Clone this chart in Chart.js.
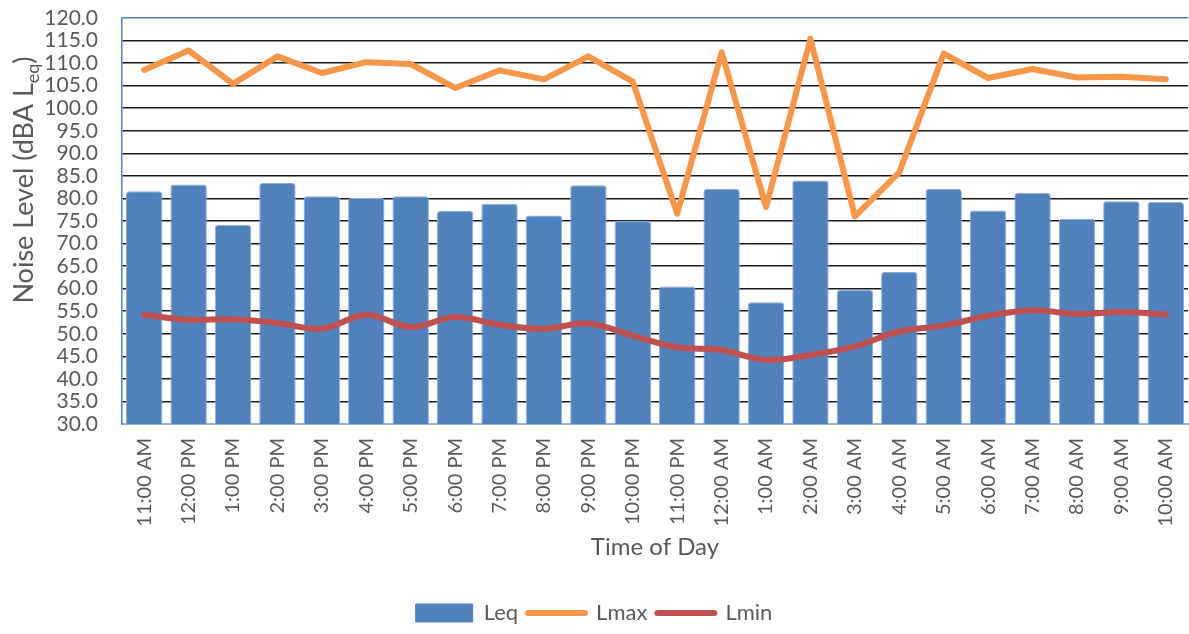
<!DOCTYPE html>
<html>
<head>
<meta charset="utf-8">
<script src="https://cdn.jsdelivr.net/npm/chart.js@4.4.1/dist/chart.umd.min.js"></script>
<style>
  html, body { margin: 0; padding: 0; background: #fff; }
  #wrap { width: 1189px; height: 634px; }
</style>
</head>
<body>
<div id="wrap"><canvas id="chart" width="1189" height="634"></canvas></div>
<script>
// Data
const times = ['11:00 AM', '12:00 PM', '1:00 PM', '2:00 PM', '3:00 PM', '4:00 PM', '5:00 PM', '6:00 PM',
  '7:00 PM', '8:00 PM', '9:00 PM', '10:00 PM', '11:00 PM', '12:00 AM', '1:00 AM', '2:00 AM',
  '3:00 AM', '4:00 AM', '5:00 AM', '6:00 AM', '7:00 AM', '8:00 AM', '9:00 AM', '10:00 AM'];
const leq = [81.6, 83.1, 74.1, 83.4, 80.5, 80.1, 80.5, 77.2, 78.8, 76.2, 82.9, 75.0,
  60.5, 82.1, 57.0, 84.0, 59.7, 63.7, 82.1, 77.3, 81.2, 75.5, 79.4, 79.2];
const lmax = [108.5, 112.8, 105.4, 111.5, 107.8, 110.2, 109.8, 104.5, 108.4, 106.4, 111.5, 105.9,
  76.6, 112.4, 78.1, 115.4, 76.0, 85.8, 112.1, 106.7, 108.7, 106.8, 107.0, 106.4];
const lmin = [54.2, 53.1, 53.2, 52.4, 51.1, 54.2, 51.5, 53.7, 52.0, 51.1, 52.3, 49.6,
  47.0, 46.4, 44.2, 45.3, 47.2, 50.5, 51.8, 54.0, 55.2, 54.4, 54.8, 54.3];

const FONT = 'Lato, "Noto Sans", sans-serif';
const TEXT = '#595959';

// y-axis title with subscript "eq"
const yTitle = {
  id: 'yTitle',
  afterDraw(chart) {
    const ctx = chart.ctx;
    const main = 'Noise Level (dBA L';
    const sub = 'eq';
    const end = ')';
    ctx.save();
    ctx.fillStyle = TEXT;
    ctx.textBaseline = 'alphabetic';
    ctx.font = '27px ' + FONT;
    const w1 = ctx.measureText(main).width;
    const w3 = ctx.measureText(end).width;
    ctx.font = '18px ' + FONT;
    const w2 = ctx.measureText(sub).width;
    const total = w1 + w2 + w3;
    ctx.translate(33, 180);
    ctx.rotate(-Math.PI / 2);
    let x = -total / 2;
    ctx.font = '27px ' + FONT;
    ctx.fillText(main, x, 0);
    x += w1;
    ctx.font = '18px ' + FONT;
    ctx.fillText(sub, x, 6);
    x += w2;
    ctx.font = '27px ' + FONT;
    ctx.fillText(end, x, 0);
    ctx.restore();
  }
};

new Chart(document.getElementById('chart'), {
  data: {
    labels: times,
    datasets: [
      {
        type: 'line',
        label: 'Lmin',
        data: lmin,
        borderColor: '#C0504D',
        backgroundColor: '#C0504D',
        borderWidth: 6,
        pointRadius: 0,
        tension: 0.35,
        borderCapStyle: 'round',
        borderJoinStyle: 'round',
        order: 1
      },
      {
        type: 'line',
        label: 'Lmax',
        data: lmax,
        borderColor: '#F79646',
        backgroundColor: '#F79646',
        borderWidth: 6,
        pointRadius: 0,
        tension: 0,
        borderCapStyle: 'round',
        borderJoinStyle: 'round',
        order: 2
      },
      {
        type: 'bar',
        label: 'Leq',
        data: leq,
        backgroundColor: '#4F81BD',
        borderColor: '#8DAEDA',
        borderWidth: 1,
        borderRadius: 3,
        borderSkipped: 'bottom',
        barPercentage: 0.82,
        categoryPercentage: 1,
        order: 3
      }
    ]
  },
  options: {
    responsive: false,
    animation: false,
    devicePixelRatio: 1,
    layout: { padding: { top: 18, right: 1, left: 0, bottom: 0 } },
    plugins: {
      tooltip: { enabled: false },
      legend: {
        position: 'bottom',
        labels: {
          font: { family: FONT, size: 22 },
          color: TEXT,
          padding: 10,
          usePointStyle: true,
          pointStyleWidth: 57,
          boxHeight: 18,
          generateLabels() {
            return [
              { text: 'Leq', pointStyle: 'rect', fillStyle: '#4F81BD', strokeStyle: '#4F81BD', lineWidth: 1, fontColor: TEXT },
              { text: 'Lmax', pointStyle: 'line', fillStyle: '#F79646', strokeStyle: '#F79646', lineWidth: 6, lineCap: 'round', fontColor: TEXT },
              { text: 'Lmin', pointStyle: 'line', fillStyle: '#C0504D', strokeStyle: '#C0504D', lineWidth: 6, lineCap: 'round', fontColor: TEXT }
            ];
          }
        }
      }
    },
    scales: {
      x: {
        grid: { display: false },
        border: { color: '#95B3D7', width: 2 },
        ticks: {
          font: { family: FONT, size: 20 },
          color: TEXT,
          minRotation: 90,
          maxRotation: 90,
          autoSkip: false,
          padding: 6
        },
        title: {
          display: true,
          text: 'Time of Day',
          font: { family: FONT, size: 24 },
          color: TEXT,
          padding: { top: 0, bottom: 30 }
        },
        afterFit(scale) {
          scale.height = 168;
          scale.paddingRight = 0;
        }
      },
      y: {
        min: 30,
        max: 120,
        border: { color: '#4F81BD', width: 1.5 },
        grid: {
          drawTicks: false,
          lineWidth: 1.6,
          color: (c) => {
            if (c.tick && c.tick.value === 120) return '#4F81BD';
            if (c.tick && c.tick.value === 30) return 'rgba(0,0,0,0)';
            return '#1A1A1A';
          }
        },
        ticks: {
          stepSize: 5,
          autoSkip: false,
          padding: 24,
          font: { family: FONT, size: 21 },
          color: TEXT,
          callback: (v) => Number(v).toFixed(1)
        },
        afterFit(scale) {
          scale.width = 122;
          scale.paddingTop = 0;
          scale.paddingBottom = 0;
        }
      }
    }
  },
  plugins: [yTitle]
});
</script>
</body>
</html>
